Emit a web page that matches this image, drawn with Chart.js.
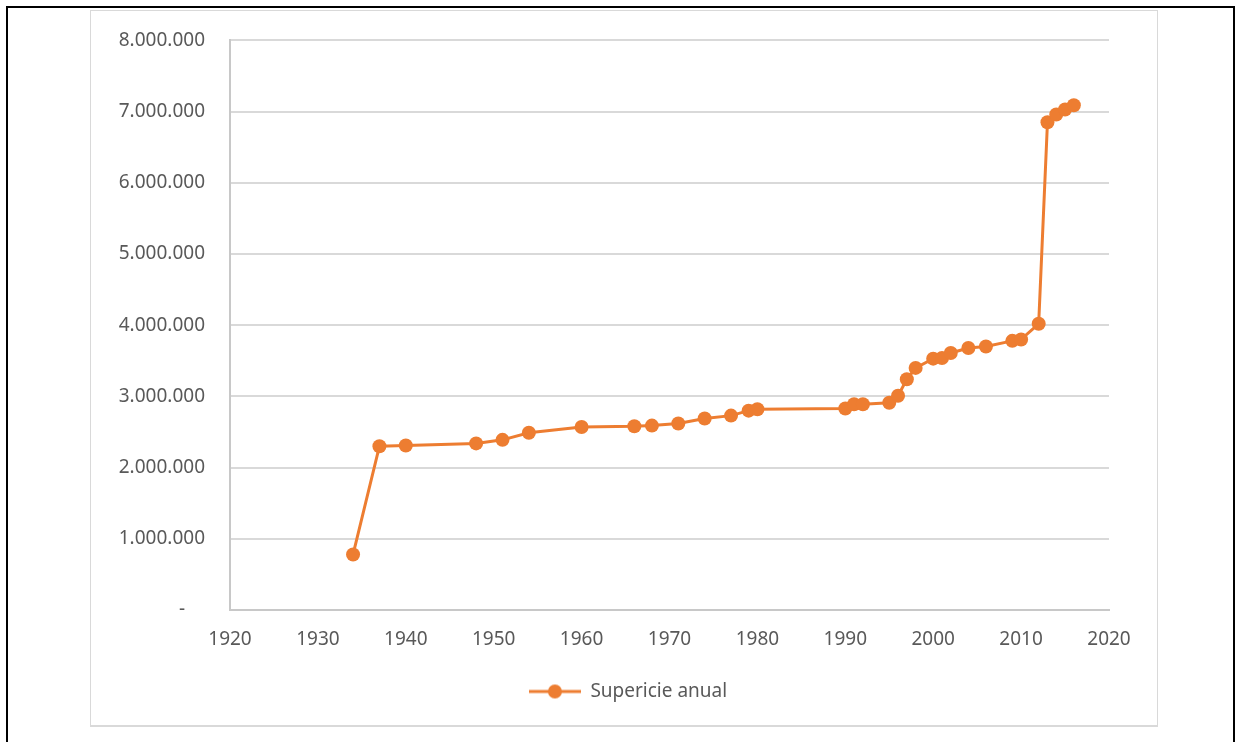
<!DOCTYPE html>
<html>
<head>
<meta charset="utf-8">
<script src="https://cdn.jsdelivr.net/npm/chart.js@4/dist/chart.umd.min.js"></script>
<style>
    body { margin: 0; background: #fff; }
    #outer {
        position: absolute; left: 6px; top: 6px; width: 1225px; height: 760px;
        border-top: 2px solid #000; border-left: 2px solid #000; border-right: 2px solid #000;
    }
    #frame {
        position: absolute; left: 90px; top: 10px; width: 1066px; height: 714px;
        border: 1px solid #d9d9d9; border-bottom-width: 2px; background: #fff;
    }
    #chart { position: absolute; left: 0; top: -7px; }
</style>
</head>
<body>
<div id="outer"></div>
<div id="frame">
    <canvas id="chart" width="1066" height="721"></canvas>
</div>
<script>
// Superficie anual
const years = [1934, 1937, 1940, 1948, 1951, 1954, 1960, 1966, 1968, 1971, 1974, 1977, 1979, 1980,
    1990, 1991, 1992, 1995, 1996, 1997, 1998, 2000, 2001, 2002, 2004, 2006, 2009, 2010, 2012,
    2013, 2014, 2015, 2016];
const superficie = [780000, 2300000, 2310000, 2340000, 2390000, 2490000, 2570000, 2580000, 2590000,
    2620000, 2690000, 2730000, 2800000, 2820000, 2830000, 2890000, 2890000, 2910000, 3010000,
    3240000, 3400000, 3530000, 3540000, 3610000, 3680000, 3700000, 3780000, 3800000, 4020000,
    6850000, 6960000, 7030000, 7090000];
const seriesName = "Supericie anual";

const orange = "#ED7D31";
const textGrey = "#595959";
const font = { family: "'Noto Sans', sans-serif", size: 19 };

// legend marker: line with a dot in the middle
const marker = document.createElement("canvas");
marker.width = 52;
marker.height = 16;
const mctx = marker.getContext("2d");
mctx.strokeStyle = orange;
mctx.lineWidth = 3;
mctx.beginPath();
mctx.moveTo(0, 8);
mctx.lineTo(52, 8);
mctx.stroke();
mctx.fillStyle = orange;
mctx.beginPath();
mctx.arc(26, 8, 7, 0, Math.PI * 2);
mctx.fill();

// move the legend a bit right, like the original
const shiftLegend = {
    id: "shiftLegend",
    afterLayout(chart) {
        chart.legend.left += 23;
        chart.legend.right += 23;
    },
};

const points = years.map((y, i) => ({ x: y, y: superficie[i] }));

const config = {
    type: "scatter",
    data: {
        datasets: [
            {
                label: seriesName,
                data: points,
                showLine: true,
                borderColor: orange,
                backgroundColor: orange,
                borderWidth: 3,
                pointRadius: 7,
                pointHoverRadius: 7,
                pointBorderWidth: 0,
                tension: 0,
            },
        ],
    },
    options: {
        responsive: false,
        animation: false,
        layout: { padding: { left: 10, right: 48, top: 21, bottom: 14 } },
        plugins: {
            tooltip: { enabled: false },
            legend: {
                position: "bottom",
                labels: {
                    usePointStyle: true,
                    pointStyle: marker,
                    pointStyleWidth: 52,
                    color: textGrey,
                    font: font,
                    padding: 10,
                },
            },
        },
        scales: {
            x: {
                type: "linear",
                min: 1920,
                max: 2020,
                ticks: { stepSize: 10, color: textGrey, font: font, padding: 18,
                    callback: v => String(v) },
                grid: { display: false, drawTicks: false },
                border: { display: true, color: "#c8c8c8", width: 2 },
                afterFit: s => { s.height = 62; },
            },
            y: {
                min: 0,
                max: 8000000,
                ticks: {
                    stepSize: 1000000,
                    color: textGrey,
                    font: font,
                    padding: 25,
                    callback: v => v === 0 ? "-    " : v.toLocaleString("de-DE"),
                },
                grid: { color: "#d9d9d9", lineWidth: 2, drawTicks: false },
                border: { display: true, color: "#c8c8c8", width: 2 },
                afterFit: s => { s.width = 129; },
            },
        },
    },
    plugins: [shiftLegend],
};

const myChart = new Chart(document.getElementById("chart"), config);
</script>
</body>
</html>
